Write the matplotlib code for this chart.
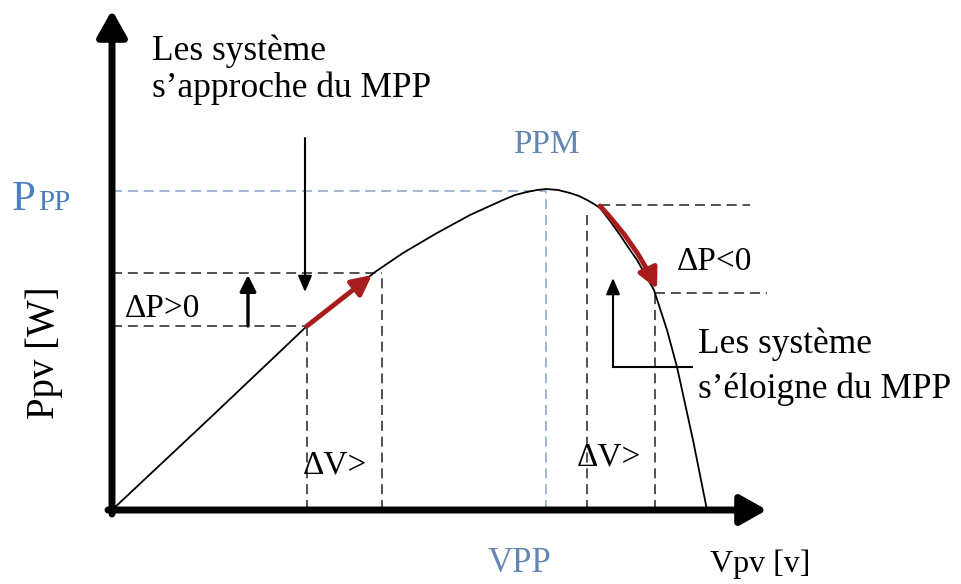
import matplotlib.pyplot as plt

# P-V curve of a PV module (V and P in drawing units)
v_curve = [0, 98, 195, 228, 243, 263, 291, 325, 358, 391, 403, 415, 425, 434, 446, 458, 467, 475, 482, 488,
           498, 508, 516, 525, 542, 555, 565, 581, 595]
p_curve = [0, 92, 184, 210, 222, 238, 257, 277, 295, 310, 315, 318, 320, 321, 320, 317, 314, 310, 306, 302,
           289, 275, 263, 250, 220, 180, 143, 70, 0]

# maximum power point
v_mpp, p_mpp = 434, 319

# left side: operating points before / after the step (approaching MPP)
v_left = [195, 270]
p_left = [184, 237]

# right side: operating points before / after the step (moving away from MPP)
v_right = [475, 543]
p_right = [305, 217]
v_right_start = 488

v_axis_end, p_axis_end = 655, 500

serif = "Liberation Serif"
blue_txt = "#6486b3"
blue_line = "#8fa9cc"
red = "#a81c1c"
dash = (0, (6, 3.5))

fig = plt.figure(figsize=(9.62, 5.84), dpi=100)
ax = fig.add_axes([0, 0, 1, 1])
ax.set_xlim(-112, 850)
ax.set_ylim(-74, 510)
ax.axis("off")

# dashed guides
ax.plot([0, v_mpp], [p_mpp, p_mpp], color=blue_line, lw=1.2, linestyle=dash)
ax.plot([v_mpp, v_mpp], [0, p_mpp], color=blue_line, lw=1.2, linestyle=dash)
for v, p in zip(v_left, p_left):
    ax.plot([0, v], [p, p], color="#333333", lw=1.2, linestyle=dash)
    ax.plot([v, v], [0, p], color="#333333", lw=1.2, linestyle=dash)
ax.plot([v_right[0], v_right[0]], [0, p_right[0] - 5], color="#333333", lw=1.2, linestyle=dash)
ax.plot([v_right_start, 638], [p_right[0], p_right[0]], color="#333333", lw=1.2, linestyle=dash)
ax.plot([v_right[1], v_right[1]], [0, p_right[1]], color="#333333", lw=1.2, linestyle=dash)
ax.plot([v_right[1], 655], [p_right[1], p_right[1]], color="#333333", lw=1.2, linestyle=dash)

# P-V curve
ax.plot(v_curve, p_curve, color="black", lw=1.3, solid_joinstyle="round")

# axes with arrows
ax.annotate("", xy=(0, p_axis_end), xytext=(0, -4),
            arrowprops=dict(arrowstyle="-|>,head_length=0.8,head_width=0.45", mutation_scale=20,
                            lw=5, color="black", shrinkA=0, shrinkB=0))
ax.annotate("", xy=(v_axis_end, 0), xytext=(-4, 0),
            arrowprops=dict(arrowstyle="-|>,head_length=0.8,head_width=0.45", mutation_scale=20,
                            lw=5, color="black", shrinkA=0, shrinkB=0))

# red step arrows
ax.annotate("", xy=(260, 235), xytext=(v_left[0], p_left[0]),
            arrowprops=dict(arrowstyle="-|>,head_length=0.8,head_width=0.4", mutation_scale=15,
                            lw=3.5, color=red, shrinkA=0, shrinkB=0))
ax.annotate("", xy=(545, 221), xytext=(v_right_start, 304),
            arrowprops=dict(arrowstyle="-|>,head_length=0.8,head_width=0.4", mutation_scale=15,
                            lw=3.5, color=red, shrinkA=0, shrinkB=0,
                            connectionstyle="arc3,rad=-0.08"))

# black pointer arrows
thin = dict(arrowstyle="-|>,head_length=0.7,head_width=0.3", mutation_scale=14,
            lw=1.5, color="black", shrinkA=0, shrinkB=0)
ax.annotate("", xy=(193, 218), xytext=(193, 372), arrowprops=thin)
ax.annotate("", xy=(136, 235), xytext=(136, 184),
            arrowprops=dict(arrowstyle="-|>,head_length=0.7,head_width=0.35", mutation_scale=14,
                            lw=2.4, color="black", shrinkA=0, shrinkB=0))
ax.plot([580, 501], [143, 143], color="black", lw=1.5)
ax.annotate("", xy=(501, 232), xytext=(501, 143), arrowprops=thin)

# texts
ax.text(40, 450, "Les système", fontsize=25.5, family=serif, va="baseline")
ax.text(40, 413, "s\u2019approche du MPP", fontsize=25.5, family=serif, va="baseline")
ax.text(586, 157, "Les système", fontsize=25.5, family=serif, va="baseline")
ax.text(586, 112, "s\u2019éloigne du MPP", fontsize=25.5, family=serif, va="baseline")
ax.text(13, 193, "\u0394P>0", fontsize=24, family=serif, va="baseline")
ax.text(565, 240, "\u0394P<0", fontsize=24, family=serif, va="baseline")
ax.text(191, 37, "\u0394V>", fontsize=24, family=serif, va="baseline")
ax.text(465, 45, "\u0394V>", fontsize=24, family=serif, va="baseline")
ax.text(-100, 300, "P", fontsize=31, family=serif, va="baseline", color="#4a7fc0")
ax.text(-74, 300, "PP", fontsize=21, family=serif, va="baseline", color="#4a7fc0")
ax.text(v_mpp, 357, "PPM", fontsize=24, family=serif, va="baseline", ha="center", color=blue_txt)
ax.text(408, -62, "VPP", fontsize=25, family=serif, va="baseline", ha="center", color=blue_txt)
ax.text(598, -62, "Vpv [v]", fontsize=23, family=serif, va="baseline")
ax.text(-68, 157, "Ppv [W]", fontsize=28, family=serif, rotation=90, ha="center", va="center")

fig.savefig("out.png", dpi=100)
